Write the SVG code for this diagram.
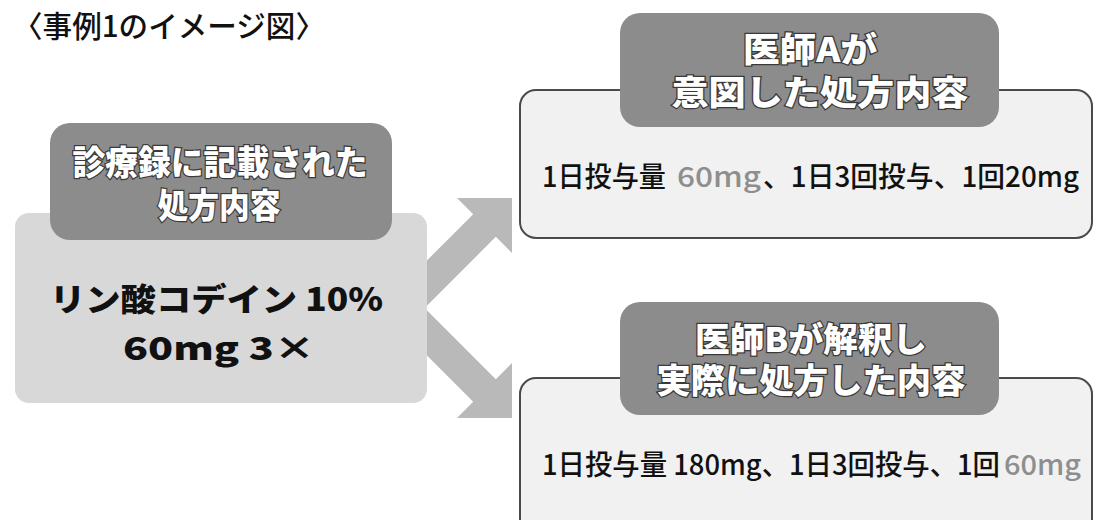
<svg xmlns="http://www.w3.org/2000/svg" width="1094" height="520" viewBox="0 0 1094 520">
<style>
.jp{font-family:"Noto Sans CJK JP","Noto Sans",sans-serif}
.hdr{fill:#8c8c8c}
.htxt{font-family:"Noto Sans CJK JP",sans-serif;font-weight:900;fill:#ffffff;stroke:#3a3a3a;stroke-width:2.5;paint-order:stroke;text-anchor:middle}
.body{fill:#f1f1f1;stroke:#4a4a4a;stroke-width:2}
.btxt{font-family:"Noto Sans CJK JP",sans-serif;font-weight:500;fill:#111;font-size:28px}
.gray{fill:#8e8e8e}
.arrow{fill:#b9b9b9}
</style>
<rect width="1094" height="520" fill="#ffffff"/>
<text class="jp" x="13" y="37" font-size="30" font-weight="500" fill="#111" textLength="312" lengthAdjust="spacingAndGlyphs">〈事例1のイメージ図〉</text>

<g id="connectors">
<polygon class="arrow" points="457,198 512,198 512,253 495.8,236.8 424.6,308 400,308 400,287.4 473.2,214.2"/>
<polygon class="arrow" points="457,418 512,418 512,363 495.8,379.2 424.6,308 400,308 400,328.6 473.2,401.8"/>
</g>

<g id="node-record">
<rect x="15" y="213" width="412" height="190" rx="14" fill="#d8d8d8"/>
<rect class="hdr" x="50" y="123" width="342" height="117" rx="20"/>
<text class="htxt" font-size="34"><tspan x="220" y="175" textLength="295" lengthAdjust="spacingAndGlyphs">診療録に記載された</tspan><tspan x="219" y="218" textLength="123" lengthAdjust="spacingAndGlyphs">処方内容</tspan></text>
<text class="jp" x="50" y="311" font-size="32" font-weight="900" fill="#111" textLength="333" lengthAdjust="spacingAndGlyphs">リン酸コデイン 10%</text>
<text class="jp" x="123" y="360" font-size="32" font-weight="900" fill="#111" textLength="192" lengthAdjust="spacingAndGlyphs">60mg  3×</text>
</g>

<g id="node-doctorA">
<rect class="body" x="520" y="90" width="572" height="148" rx="16"/>
<rect class="hdr" x="620" y="13" width="379" height="114" rx="20"/>
<text class="htxt" font-size="34"><tspan x="810" y="62" textLength="134" lengthAdjust="spacingAndGlyphs">医師Aが</tspan><tspan x="820" y="105" textLength="297" lengthAdjust="spacingAndGlyphs">意図した処方内容</tspan></text>
<text class="btxt" x="542" y="187" textLength="124" lengthAdjust="spacingAndGlyphs">1日投与量</text>
<text class="btxt gray" x="677" y="187" textLength="84" lengthAdjust="spacingAndGlyphs">60mg</text>
<text class="btxt" x="763" y="187" textLength="316" lengthAdjust="spacingAndGlyphs">、1日3回投与、1回20mg</text>
</g>

<g id="node-doctorB">
<rect class="body" x="520" y="378" width="572" height="170" rx="16"/>
<rect class="hdr" x="620" y="302" width="379" height="113" rx="20"/>
<text class="htxt" font-size="34"><tspan x="811" y="352" textLength="232" lengthAdjust="spacingAndGlyphs">医師Bが解釈し</tspan><tspan x="811" y="393" textLength="309" lengthAdjust="spacingAndGlyphs">実際に処方した内容</tspan></text>
<text class="btxt" x="542" y="475" textLength="458" lengthAdjust="spacingAndGlyphs">1日投与量 180mg、1日3回投与、1回</text>
<text class="btxt gray" x="1004" y="475" textLength="77" lengthAdjust="spacingAndGlyphs">60mg</text>
</g>
</svg>
